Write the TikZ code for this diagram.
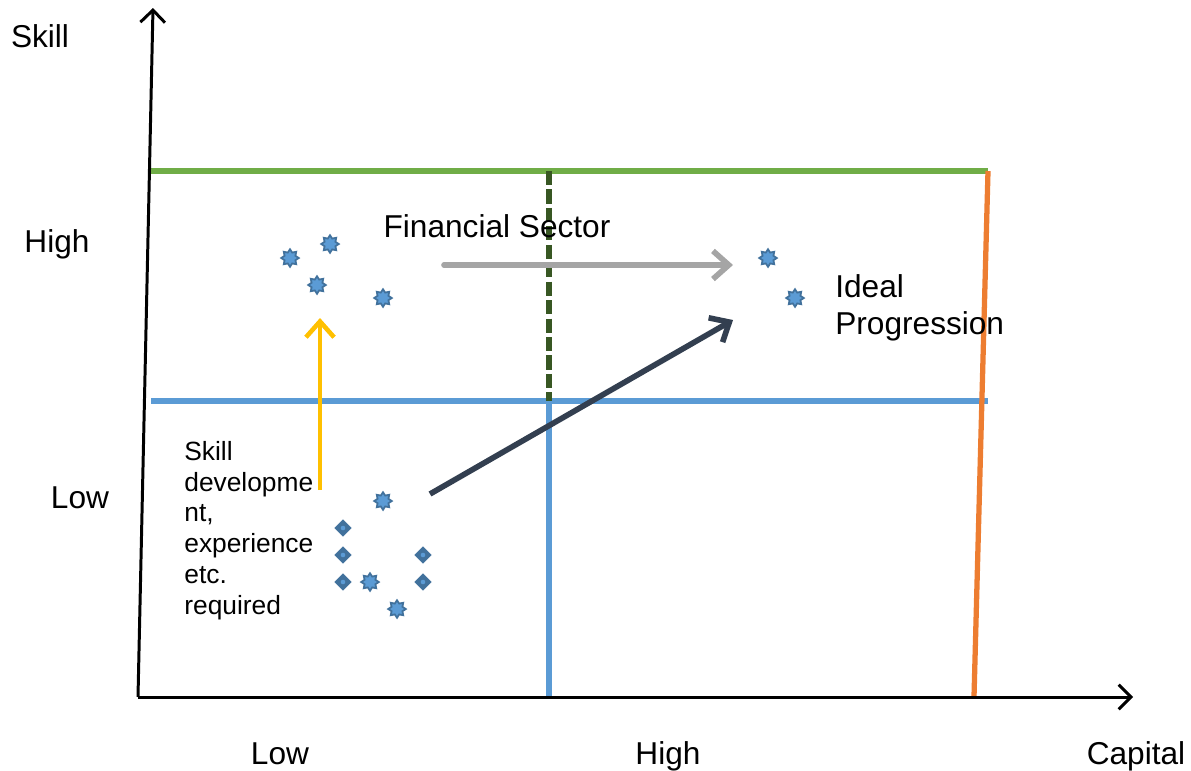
\documentclass[tikz,border=0pt]{standalone}
\usepackage{fontspec}
\setmainfont{Liberation Sans}
\usepackage{tikz}
\usetikzlibrary{arrows.meta}
\usetikzlibrary{shapes.geometric}

\definecolor{bandgreen}{HTML}{70AD47}
\definecolor{bandorange}{HTML}{ED7D31}
\definecolor{bandblue}{HTML}{5B9BD5}
\definecolor{darkgreen}{HTML}{385723}
\definecolor{arrowgray}{HTML}{A5A5A5}
\definecolor{arrowslate}{HTML}{333F50}
\definecolor{arrowyellow}{HTML}{FFC000}
\definecolor{pointedge}{HTML}{41719C}

\begin{document}
\begin{tikzpicture}[x=0.02cm, y=-0.02cm,
	axis/.style={line width=1.7pt, -{Straight Barb[length=7pt, width=14pt]}},
	band/.style={line width=3pt},
	move/.style={line width=3.2pt, line cap=round, -{Straight Barb[length=9pt, width=16pt]}},
	lbl/.style={font=\fontsize{18}{21}\selectfont, inner sep=0pt},
	starpt/.style={star, star points=8, star point ratio=1.5, minimum size=10pt,
		inner sep=0pt, fill=bandblue, draw=pointedge, line width=1pt},
	diapt/.style={diamond, minimum size=9.5pt, inner sep=0pt,
		fill=pointedge, draw=pointedge, path picture={\fill[bandblue] (path picture bounding box.center) circle (1.3pt);}}
]
	\useasboundingbox (0,0) rectangle (1191,771);

	% axes
	\coordinate (origin) at (138,697);
	\coordinate (ytop) at (153,8);
	\coordinate (xend) at (1133,697);

	% bands
	\coordinate (greenl) at (151,171);
	\coordinate (greenr) at (988,171);
	\coordinate (orangeb) at (974,697);
	\coordinate (bluel) at (151,401);
	\coordinate (bluer) at (988,401);
	\coordinate (mid) at (549,401);
	\coordinate (midtop) at (549,171);
	\coordinate (midbot) at (549,697);

	\draw[band, bandgreen] (greenl) -- (greenr);
	\draw[band, bandblue] (bluel) -- (bluer);
	\draw[band, bandblue] (mid) -- (midbot);
	\draw[band, darkgreen, dash pattern=on 8pt off 2.5pt] (midtop) -- (mid);
	\draw[band, bandorange] (greenr) -- (orangeb);

	\draw[axis] (origin) -- (ytop);
	\draw[axis] (origin) -- (xend);

	% labels
	\node[lbl, anchor=base] (skill) at (40,47) {Skill};
	\node[lbl, anchor=base] (yhigh) at (57,252) {High};
	\node[lbl, anchor=base] (ylow) at (80,508) {Low};
	\node[lbl, anchor=base] (xlow) at (280,764) {Low};
	\node[lbl, anchor=base] (xhigh) at (668,764) {High};
	\node[lbl, anchor=base] (capital) at (1136,764) {Capital};
	\node[lbl, anchor=base] (finance) at (497,237) {Financial Sector};
	\node[lbl, anchor=north west, align=left] (ideal) at (835,274) {Ideal\\Progression};
	\node[inner sep=0pt, anchor=north west, align=left,
		font=\fontsize{15}{17.5}\selectfont] (develop) at (184,441)
		{Skill\\developme\\nt,\\experience\\etc.\\required};

	% firms with skill
	\node[starpt] (s1) at (290,258) {};
	\node[starpt] (s2) at (330,244) {};
	\node[starpt] (s3) at (317,285) {};
	\node[starpt] (s4) at (383,298) {};
	\node[starpt] (s5) at (768,258) {};
	\node[starpt] (s6) at (795,298) {};

	% firms without skill
	\node[starpt] (s7) at (383,501) {};
	\node[diapt] (d1) at (343,528) {};
	\node[diapt] (d2) at (343,555) {};
	\node[diapt] (d3) at (423,555) {};
	\node[diapt] (d4) at (343,582) {};
	\node[starpt] (s8) at (370,582) {};
	\node[diapt] (d5) at (423,582) {};
	\node[starpt] (s9) at (397,609) {};

	% moves
	\coordinate (grayfrom) at (444,265);
	\coordinate (grayto) at (733,265);
	\coordinate (slatefrom) at (430,494);
	\coordinate (slateto) at (733,320);
	\coordinate (yellowfrom) at (320,490);
	\coordinate (yellowto) at (320,318);

	\draw[move, arrowgray] (grayfrom) -- (grayto);
	\draw[move, arrowslate, line cap=butt] (slatefrom) -- (slateto);
	\draw[move, arrowyellow, line width=2.6pt, line cap=butt] (yellowfrom) -- (yellowto);
\end{tikzpicture}
\end{document}
